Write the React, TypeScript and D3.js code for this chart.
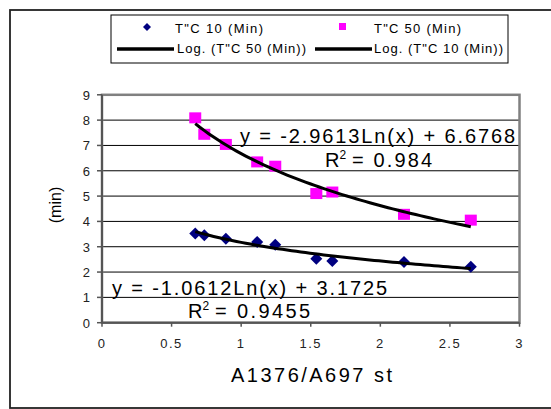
import React from "react";
import * as d3 from "d3";

const xValues = [0.67, 0.735, 0.89, 1.115, 1.245, 1.54, 1.655, 2.17, 2.65];
const series50 = [8.09, 7.44, 7.04, 6.35, 6.18, 5.1, 5.16, 4.28, 4.05];
const series10 = [3.52, 3.45, 3.32, 3.19, 3.08, 2.53, 2.44, 2.4, 2.21];
const fit50 = { a: -2.9613, b: 6.6768 };
const fit10 = { a: -1.0612, b: 3.1725 };
const xTicks = [0, 0.5, 1, 1.5, 2, 2.5, 3];
const yTicks = [0, 1, 2, 3, 4, 5, 6, 7, 8, 9];
const legendLabels = ['T"C 10 (Min)', 'T"C 50 (Min)', 'Log. (T"C 50 (Min))', 'Log. (T"C 10 (Min))'];
const eq50 = "y = -2.9613Ln(x) + 6.6768";
const eq10 = "y = -1.0612Ln(x) + 3.1725";
const r2Text50 = "= 0.984";
const r2Text10 = "= 0.9455";

const FONT = "'Liberation Sans', Arial, sans-serif";

export default function App() {
  const x = d3.scaleLinear().domain([0, 3]).range([102, 519.5]);
  const y = d3.scaleLinear().domain([0, 9]).range([322.7, 94.8]);

  const lnLine = (fit: { a: number; b: number }) => {
    const lo = d3.min(xValues) as number;
    const hi = d3.max(xValues) as number;
    const pts = d3.range(0, 61).map((i) => lo + ((hi - lo) * i) / 60);
    return d3
      .line<number>()
      .x((d) => x(d))
      .y((d) => y(fit.a * Math.log(d) + fit.b))(pts) as string;
  };

  const diamond = (cx: number, cy: number, r: number) =>
    `M${cx},${cy - r}L${cx + r},${cy}L${cx},${cy + r}L${cx - r},${cy}Z`;

  const r2 = (x0: number, base: number, rest: string, restEnd: number) => (
    <g fontFamily={FONT}>
      <text x={x0} y={base} fontSize={20}>R</text>
      <text x={x0 + 14.5} y={base - 8} fontSize={12}>2</text>
      <text x={x0 + 27} y={base} fontSize={20} textLength={restEnd - x0 - 27} lengthAdjust="spacing">
        {rest}
      </text>
    </g>
  );

  return (
    <svg width={551} height={409} style={{ position: "absolute", left: 0, top: 0 }}>
      <rect x={0} y={0} width={551} height={409} fill="#fff" />
      {/* outer frame */}
      <rect x={10} y={10} width={560} height={398} fill="none" stroke="#222" strokeWidth={1.8} />

      {/* legend */}
      <rect x={111} y={15} width={397} height={48} fill="#fff" stroke="#000" strokeWidth={1} />
      <path d={diamond(147, 27, 4)} fill="#000080" />
      <text x={175} y={32.5} fontFamily={FONT} fontSize={13} textLength={88} lengthAdjust="spacing">
        {legendLabels[0]}
      </text>
      <rect x={339} y={23} width={7} height={7} fill="#ff00ff" />
      <text x={374} y={32.5} fontFamily={FONT} fontSize={13} textLength={87} lengthAdjust="spacing">
        {legendLabels[1]}
      </text>
      <line x1={117} x2={174} y1={49} y2={49} stroke="#000" strokeWidth={3.5} />
      <text x={177} y={53} fontFamily={FONT} fontSize={13} textLength={129} lengthAdjust="spacing">
        {legendLabels[2]}
      </text>
      <line x1={315} x2={372} y1={49} y2={49} stroke="#000" strokeWidth={3.5} />
      <text x={374} y={53} fontFamily={FONT} fontSize={13} textLength={129} lengthAdjust="spacing">
        {legendLabels[3]}
      </text>

      {/* gridlines */}
      {yTicks
        .filter((t) => t > 0 && t < 9)
        .map((t) => (
          <line key={t} x1={x(0)} x2={x(3)} y1={y(t)} y2={y(t)} stroke="#000" strokeWidth={1} />
        ))}

      {/* plot border */}
      <rect
        x={x(0)}
        y={y(9)}
        width={x(3) - x(0)}
        height={y(0) - y(9)}
        fill="none"
        stroke="#808080"
        strokeWidth={2.5}
      />
      <line x1={x(0)} x2={x(0)} y1={y(9)} y2={y(0)} stroke="#555" strokeWidth={2} />
      <line x1={x(0)} x2={x(3)} y1={y(0)} y2={y(0)} stroke="#555" strokeWidth={2} />

      {/* y ticks */}
      {yTicks.map((t) => (
        <g key={t}>
          <line x1={x(0) - 5} x2={x(0)} y1={y(t)} y2={y(t)} stroke="#555" strokeWidth={1.5} />
          <text x={90} y={y(t) + 5} textAnchor="end" fontFamily={FONT} fontSize={13} fill="#222">
            {t}
          </text>
        </g>
      ))}

      {/* x ticks */}
      {xTicks.map((t) => (
        <g key={t}>
          <line x1={x(t)} x2={x(t)} y1={y(0)} y2={y(0) + 4} stroke="#555" strokeWidth={1.5} />
          <text
            x={x(t)}
            y={347.5}
            textAnchor="middle"
            fontFamily={FONT}
            fontSize={13}
            letterSpacing={1.5}
            fill="#222"
          >
            {t}
          </text>
        </g>
      ))}

      {/* axis titles */}
      <text x={231} y={382} fontFamily={FONT} fontSize={20} textLength={161} lengthAdjust="spacing">
        A1376/A697 st
      </text>
      <text transform="translate(61,205) rotate(-90)" textAnchor="middle" fontFamily={FONT} fontSize={16}>
        (min)
      </text>

      {/* markers */}
      {xValues.map((xv, i) => (
        <path key={"d" + i} d={diamond(x(xv), y(series10[i]), 6)} fill="#000080" />
      ))}
      {xValues.map((xv, i) => (
        <rect key={"s" + i} x={x(xv) - 6} y={y(series50[i]) - 5.5} width={12} height={11} fill="#ff00ff" />
      ))}

      {/* trendlines */}
      <path d={lnLine(fit50)} fill="none" stroke="#000" strokeWidth={3} />
      <path d={lnLine(fit10)} fill="none" stroke="#000" strokeWidth={3} />

      {/* equations */}
      <text x={240} y={143} fontFamily={FONT} fontSize={20} textLength={275} lengthAdjust="spacing">
        {eq50}
      </text>
      {r2(325, 167, r2Text50, 432)}
      <text x={112} y={295} fontFamily={FONT} fontSize={20} textLength={275} lengthAdjust="spacing">
        {eq10}
      </text>
      {r2(188, 317.5, r2Text10, 310)}
    </svg>
  );
}
